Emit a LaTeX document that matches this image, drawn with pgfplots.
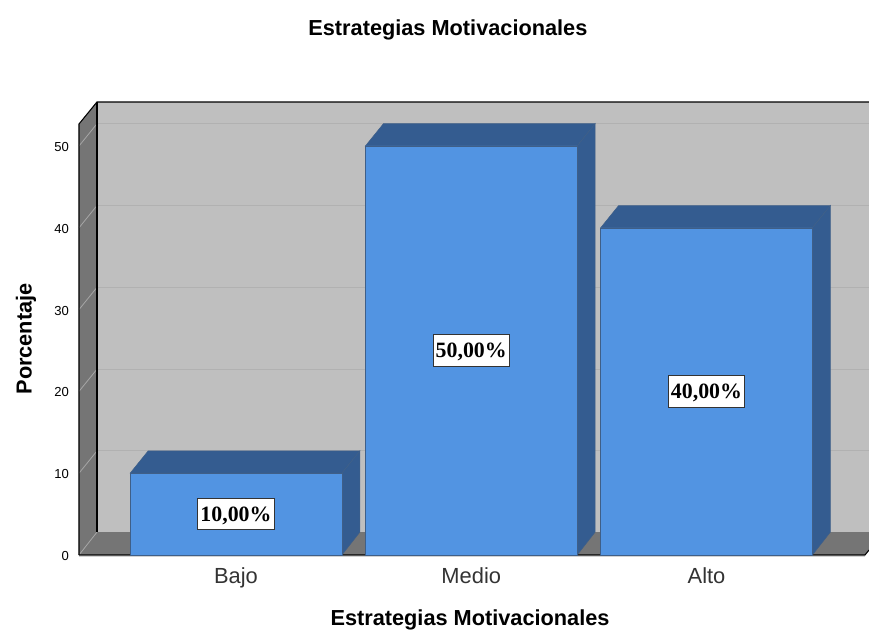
\documentclass[border=0pt]{standalone}
\usepackage{fontspec}
\setmainfont{Liberation Sans}
\newfontfamily\labelserif{Liberation Serif}
\usepackage{pgfplots}
\pgfplotsset{compat=1.18}
\definecolor{wallback}{HTML}{BFBFBF}
\definecolor{gridback}{HTML}{B1B1B1}
\definecolor{wallside}{HTML}{757575}
\definecolor{gridside}{HTML}{A6A6A6}
\definecolor{barfront}{HTML}{5294E2}
\definecolor{bardark}{HTML}{345C90}
\definecolor{baredge}{HTML}{3F5F88}
\definecolor{ticktext}{HTML}{333333}
\pgfplotstableread{
x y
0 10
1 50
2 40
}\bardata
\begin{document}
\begin{tikzpicture}
\path[use as bounding box] (-59.25pt,-56.25pt) rectangle (592.5pt,416.25pt);
\begin{axis}[
  scale only axis, width=592.5pt, height=339.75pt,
  xmin=-0.6674, xmax=2.6907, ymin=0, ymax=55.38,
  clip=false,
  axis line style={draw=none},
  major tick length=0pt,
  xtick={0,1,2}, xticklabels={Bajo,Medio,Alto},
  ytick={0,10,20,30,40,50},
  /pgf/number format/assume math mode=true,
  xticklabel style={font=\fontsize{16.4}{18}\selectfont, text=ticktext, anchor=center, text height=12pt, text depth=3.4pt, yshift=-17pt},
  yticklabel style={font=\fontsize{9.8}{12}\selectfont, text=black, anchor=east, xshift=-4pt, yshift=-0.7pt},
]
% back wall
\addplot[fill=wallback, draw=none] coordinates {(-0.5909,2.8) (2.6907,2.8) (2.6907,55.38) (-0.5909,55.38)} --cycle;
% back gridlines
\addplot[gridback, line width=0.8pt] coordinates {(-0.5909,12.72) (2.6907,12.72)};
\addplot[gridback, line width=0.8pt] coordinates {(-0.5909,22.72) (2.6907,22.72)};
\addplot[gridback, line width=0.8pt] coordinates {(-0.5909,32.72) (2.6907,32.72)};
\addplot[gridback, line width=0.8pt] coordinates {(-0.5909,42.72) (2.6907,42.72)};
\addplot[gridback, line width=0.8pt] coordinates {(-0.5909,52.72) (2.6907,52.72)};
% left wall
\addplot[fill=wallside, draw=none] coordinates {(-0.6674,0) (-0.6674,52.69) (-0.5909,55.38) (-0.5909,2.8)} --cycle;
\addplot[gridside, line width=0.6pt] coordinates {(-0.6674,10) (-0.5909,12.72)};
\addplot[gridside, line width=0.6pt] coordinates {(-0.6674,20) (-0.5909,22.72)};
\addplot[gridside, line width=0.6pt] coordinates {(-0.6674,30) (-0.5909,32.72)};
\addplot[gridside, line width=0.6pt] coordinates {(-0.6674,40) (-0.5909,42.72)};
\addplot[gridside, line width=0.6pt] coordinates {(-0.6674,50) (-0.5909,52.72)};
% floor
\addplot[fill=wallside, draw=none] coordinates {(-0.6674,0) (2.6737,0) (2.6907,0.6) (2.6907,2.8) (-0.5909,2.8)} --cycle;
\addplot[gridside, line width=0.6pt] coordinates {(-0.6674,0) (-0.5909,2.8)};
% light edge below floor
\addplot[gray!35, line width=0.7pt] coordinates {(-0.6674,-0.2) (2.6737,-0.2)};
% black outline
\addplot[black, line width=0.8pt] coordinates {(-0.6674,0) (-0.6674,52.69) (-0.5909,55.38) (2.6907,55.38)};
\addplot[black, line width=0.8pt] coordinates {(-0.5909,55.38) (-0.5909,2.8)};
\addplot[black, line width=0.8pt] coordinates {(-0.6674,0) (2.6737,0) (2.6907,0.6)};
% bar 3-D faces
\addplot[fill=bardark, draw=baredge, line width=0.4pt] coordinates {(-0.45,10) (0.45,10) (0.5265,12.72) (-0.3735,12.72)} --cycle;
\addplot[fill=bardark, draw=baredge, line width=0.4pt] coordinates {(0.45,0) (0.5265,2.8) (0.5265,12.72) (0.45,10)} --cycle;
\addplot[fill=bardark, draw=baredge, line width=0.4pt] coordinates {(0.55,50) (1.45,50) (1.5265,52.72) (0.6265,52.72)} --cycle;
\addplot[fill=bardark, draw=baredge, line width=0.4pt] coordinates {(1.45,0) (1.5265,2.8) (1.5265,52.72) (1.45,50)} --cycle;
\addplot[fill=bardark, draw=baredge, line width=0.4pt] coordinates {(1.55,40) (2.45,40) (2.5265,42.72) (1.6265,42.72)} --cycle;
\addplot[fill=bardark, draw=baredge, line width=0.4pt] coordinates {(2.45,0) (2.5265,2.8) (2.5265,42.72) (2.45,40)} --cycle;
% bar fronts
\addplot[ybar, bar width=0.9, bar shift=0pt, fill=barfront, draw=baredge, line width=0.4pt] table[x=x,y=y] {\bardata};
% value labels
\addplot[only marks, mark=none, point meta=explicit symbolic,
  nodes near coords,
  every node near coord/.style={anchor=center, draw=black!80, line width=0.6pt, fill=white, text=black,
    font=\labelserif\bfseries\fontsize{16.4}{18}\selectfont, inner xsep=2pt, inner ysep=0pt,
    minimum height=23.5pt, text height=13pt, text depth=2.5pt}]
  coordinates {(0,5) [10,00\%] (1,25) [50,00\%] (2,20) [40,00\%]};
% titles
\node[font=\bfseries\fontsize{16.3}{18}\selectfont, anchor=center] at (rel axis cs:0.467,1.159) {Estrategias Motivacionales};
\node[font=\bfseries\fontsize{16.3}{18}\selectfont, anchor=center] at (rel axis cs:0.495,-0.1425) {Estrategias Motivacionales};
\node[font=\bfseries\fontsize{16.3}{18}\selectfont, anchor=center, rotate=90] at (rel axis cs:-0.067,0.477) {Porcentaje};
\end{axis}
\end{tikzpicture}
\end{document}
